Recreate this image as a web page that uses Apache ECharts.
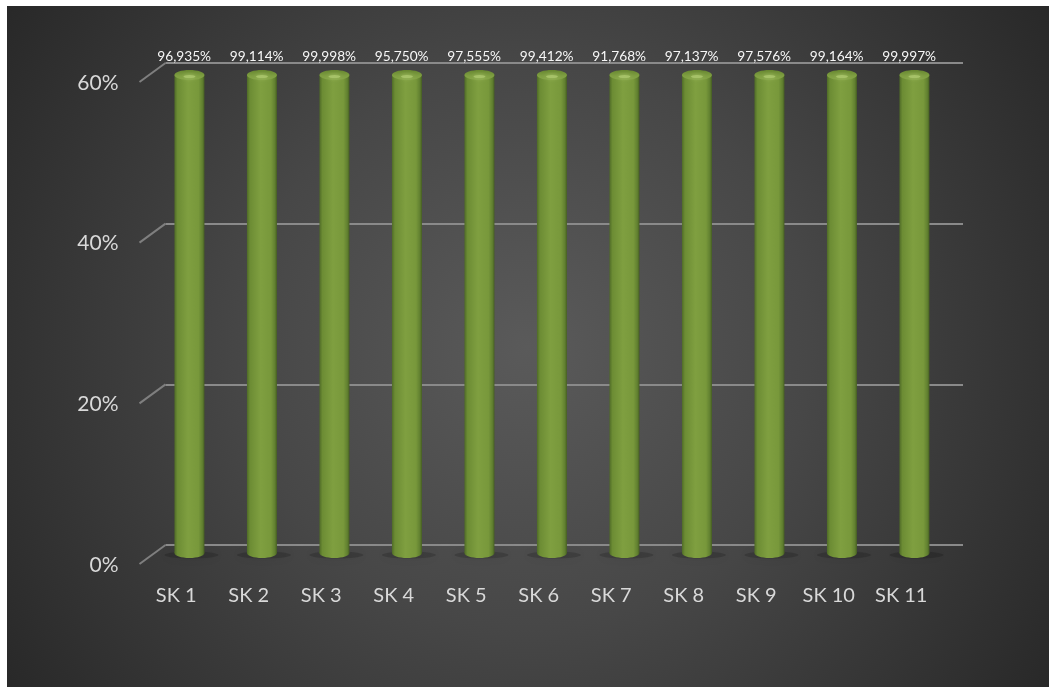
<!DOCTYPE html>
<html>
<head>
<meta charset="utf-8">
<style>
html,body{margin:0;padding:0;background:#fff;width:1049px;height:687px;overflow:hidden}
#c{position:absolute;left:7px;top:6px;width:1042px;height:681px}
</style>
<script src="https://cdn.jsdelivr.net/npm/echarts@6/dist/echarts.min.js"></script>
</head>
<body>
<div id="c"></div>
<script>
const categories = ['SK 1','SK 2','SK 3','SK 4','SK 5','SK 6','SK 7','SK 8','SK 9','SK 10','SK 11'];
const coverage = [96.935,99.114,99.998,95.750,97.555,99.412,91.768,97.137,97.576,99.164,99.997];
const axisTicks = [0,20,40,60];
const axisMax = 60;

const chart = echarts.init(document.getElementById('c'));
const FONT = 'Lato, "Open Sans", sans-serif';

const bodyFill = new echarts.graphic.LinearGradient(0,0,1,0,[
  {offset:0,color:'#4f6b27'},{offset:0.1,color:'#6c8c34'},{offset:0.45,color:'#7f9f40'},
  {offset:0.8,color:'#78983b'},{offset:0.93,color:'#618030'},{offset:1,color:'#465e22'}
]);
const capFill = new echarts.graphic.LinearGradient(0,0,0,1,[
  {offset:0,color:'#66862f'},{offset:0.6,color:'#7f9f42'},{offset:1,color:'#86a648'}
]);

function renderBar(params, api){
  const i = api.value(0);
  const v = Math.min(api.value(1), axisMax);
  const top = api.coord([i, v]);
  const base = api.coord([i, 0]);
  const cx = top[0] - 12.3;
  const topY = top[1] + 12;
  const baseY = base[1] + 8;
  const rx = 15, ry = 5;
  return {type:'group',children:[
    {type:'ellipse',shape:{cx:cx+2,cy:baseY+2,rx:rx+12,ry:3.5},
     style:{fill:'rgba(0,0,0,0.16)',shadowBlur:10,shadowColor:'rgba(0,0,0,0.45)'}},
    {type:'rect',shape:{x:cx-rx,y:topY,width:rx*2,height:baseY-topY},style:{fill:bodyFill}},
    {type:'ellipse',shape:{cx:cx,cy:baseY,rx:rx,ry:ry},style:{fill:bodyFill}},
    {type:'ellipse',shape:{cx:cx,cy:topY,rx:rx,ry:ry},style:{fill:capFill}},
    {type:'ellipse',shape:{cx:cx,cy:topY+1.5,rx:6,ry:1.6},
     style:{fill:'#a6c268',shadowBlur:4,shadowColor:'#a6c268'}},
    {type:'text',x:top[0]-17.6,y:51,style:{
      text:api.value(1).toFixed(3).replace('.',',')+'%',
      fill:'#f7f7f7',font:'13.7px '+FONT,align:'center',verticalAlign:'middle'}}
  ]};
}

function renderStub(params, api){
  const p = api.coord([0, api.value(0)]);
  const x = p[0] - api.size([1,0])[0]/2;
  return {type:'line',shape:{x1:x,y1:p[1],x2:x-26,y2:p[1]+19},
    style:{stroke:'#7f7f7f',lineWidth:2}};
}

chart.setOption({
  animation:false,
  backgroundColor:new echarts.graphic.RadialGradient(0.5,0.5,0.92,[
    {offset:0,color:'#5a5a5a'},{offset:0.45,color:'#474747'},{offset:1,color:'#282828'}
  ]),
  grid:{left:158.5,right:86,top:57,bottom:142},
  xAxis:{type:'category',data:categories,
    axisLine:{show:false},axisTick:{show:false},
    axisLabel:{interval:0,margin:41,color:'#d9d9d9',fontFamily:FONT,fontSize:20,padding:[0,51,0,0]}},
  yAxis:{type:'value',min:0,max:axisMax,interval:20,
    axisLine:{show:false},axisTick:{show:false},
    splitLine:{lineStyle:{color:'#8a8a8a',width:2}},
    axisLabel:{margin:47,color:'#d9d9d9',fontFamily:FONT,fontSize:21,
      formatter:'{value}%',verticalAlign:'top',lineHeight:40,align:'right'}},
  series:[
    {type:'custom',name:'stubs',coordinateSystem:'cartesian2d',clip:false,silent:true,
     data:axisTicks.map(t=>[t]),encode:{y:0},renderItem:renderStub},
    {type:'custom',name:'Coverage',coordinateSystem:'cartesian2d',clip:false,silent:true,
     data:coverage.map((v,i)=>[i,v]),encode:{x:0,y:1},renderItem:renderBar}
  ]
});
</script>
</body>
</html>
